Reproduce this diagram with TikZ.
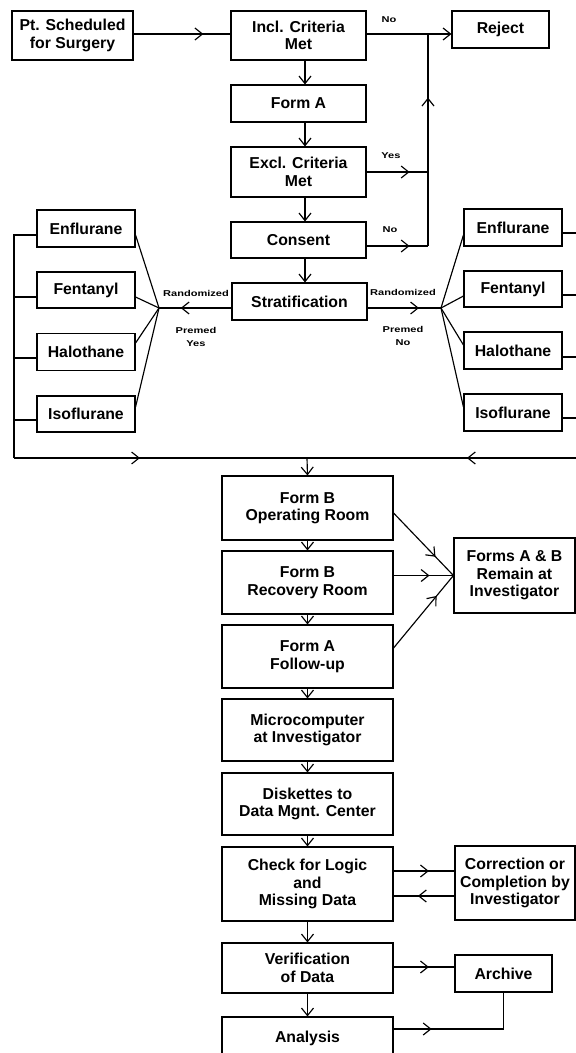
\documentclass[tikz,border=0pt]{standalone}
\usepackage{fontspec}
\setmainfont{Liberation Sans}
\newfontfamily\lblfont[FakeStretch=1.3]{Liberation Sans}
\usetikzlibrary{arrows.meta,decorations.markings}
\tikzset{
  box/.style={draw, line width=1.1pt, align=center, inner sep=0pt,
    font=\fontsize{15.8}{17.5}\selectfont\bfseries},
  wh/.style 2 args={minimum width=#1pt, minimum height=#2pt},
  lbl/.style={font=\lblfont\fontsize{8.5}{13}\selectfont\bfseries, align=center, inner sep=0pt},
  conn/.style={line width=1.15pt},
  tip/.style={-{Straight Barb[length=7.5pt,width=12pt]}},
  midarr/.style={postaction={decorate}, decoration={markings,
    mark=at position #1 with {\arrow{Straight Barb[length=7.5pt,width=12pt]}}}},
}
\begin{document}
\begin{tikzpicture}[x=1pt,y=-1pt]
\useasboundingbox (0,0) rectangle (576,1053);
\fill[white] (0,0) rectangle (576,1053);
\clip (0,0) rectangle (576,1053);

% upper column
\node[box, wh={121}{49}] (pt) at (72.5,35.5) {Pt. Scheduled\\for Surgery};
\node[box, wh={135}{49}] (incl) at (298.5,35.5) {Incl. Criteria\\Met};
\node[box, wh={97}{37}] (reject) at (500.5,29.5) {Reject};
\node[box, wh={135}{37}] (forma) at (298.5,103.5) {Form A};
\node[box, wh={135}{50}] (excl) at (298.5,172) {Excl. Criteria\\Met};
\node[box, wh={135}{36}] (consent) at (298.5,240) {Consent};
\node[box, wh={135}{37}] (strat) at (299.5,301.5) {Stratification};

% drug boxes
\node[box, wh={98}{37}] (enfL) at (86,228.5) {Enflurane};
\node[box, wh={98}{36}] (fenL) at (86,290) {Fentanyl};
\node[box, wh={98}{37}] (halL) at (86,352) {Halothane};
\node[box, wh={98}{36}] (isoL) at (86,414) {Isoflurane};
\node[box, wh={98}{37}] (enfR) at (513,227.5) {Enflurane};
\node[box, wh={98}{36}] (fenR) at (513,289) {Fentanyl};
\node[box, wh={98}{37}] (halR) at (513,350.5) {Halothane};
\node[box, wh={98}{37}] (isoR) at (513,412.5) {Isoflurane};

% lower column
\node[box, wh={171}{64}] (formb1) at (307.5,508) {Form B\\Operating Room};
\node[box, wh={171}{63}] (formb2) at (307.5,582.5) {Form B\\Recovery Room};
\node[box, wh={171}{63}] (forma2) at (307.5,656.5) {Form A\\Follow-up};
\node[box, wh={171}{62}] (micro) at (307.5,730) {Microcomputer\\at Investigator};
\node[box, wh={171}{62}] (disk) at (307.5,804) {Diskettes to\\Data Mgnt. Center};
\node[box, wh={171}{74}] (check) at (307.5,884) {Check for Logic\\and\\Missing Data};
\node[box, wh={171}{50}] (verif) at (307.5,968) {Verification\\of Data};
\node[box, wh={171}{42}] (analysis) at (307.5,1038) {Analysis};
\node[box, wh={121}{75}] (forms) at (514.5,575.5) {Forms A \& B\\Remain at\\Investigator};
\node[box, wh={120}{74}] (corr) at (515,883) {Correction or\\Completion by\\Investigator};
\node[box, wh={97}{37}] (archive) at (503.5,973.5) {Archive};

% labels
\node[lbl] (lno1) at (389,20) {No};
\node[lbl] (lyes) at (391,156) {Yes};
\node[lbl] (lno2) at (390,230) {No};
\node[lbl] (lrandL) at (196,293) {Randomized};
\node[lbl] (lrandR) at (403,292) {Randomized};
\node[lbl] (lpremL) at (196,336.5) {Premed\\Yes};
\node[lbl] (lpremR) at (403,335.5) {Premed\\No};

% coordinates
\coordinate (cx) at (305,0);
\coordinate (vbot) at (428,246);
\coordinate (vtop) at (428,34);
\coordinate (fl) at (159,308);
\coordinate (fr) at (441,308);
\coordinate (lbus) at (14,458);
\coordinate (rbus) at (578,458);
\coordinate (junc) at (307,458);

% top connectors
\draw[conn, midarr=0.72] (pt.east |- vtop) -- (incl.west |- vtop);
\draw[conn, tip] (incl.east |- vtop) -- (reject.west |- vtop);
\draw[conn, midarr=0.7] (vbot) -- (vtop);
\draw[conn, midarr=0.7] (excl.east) -- (excl.east -| vbot);
\draw[conn, midarr=0.7] (consent.east |- vbot) -- (vbot);
\draw[conn, tip] (incl.south -| cx) -- (forma.north -| cx);
\draw[conn, tip] (forma.south -| cx) -- (excl.north -| cx);
\draw[conn, tip] (excl.south -| cx) -- (consent.north -| cx);
\draw[conn, tip] (consent.south -| cx) -- (strat.north -| cx);

% stratification fans
\draw[conn, midarr=0.7] (strat.west |- fl) -- (fl);
\draw[conn, midarr=0.7] (strat.east |- fr) -- (fr);
\draw[conn] (fl) -- ([yshift=-6.5pt]enfL.east);
\draw[conn] (fl) -- ([yshift=-7pt]fenL.east);
\draw[conn] (fl) -- ([yshift=9pt]halL.east);
\draw[conn] (fl) -- ([yshift=7pt]isoL.east);
\draw[conn] (fr) -- ([yshift=-7.5pt]enfR.west);
\draw[conn] (fr) -- ([yshift=-7pt]fenR.west);
\draw[conn] (fr) -- ([yshift=5.5pt]halR.west);
\draw[conn] (fr) -- ([yshift=5.5pt]isoR.west);

% buses
\draw[conn] ([yshift=-6.5pt]enfL.west) -| (lbus);
\draw[conn] ([yshift=-7pt]fenL.west) -- (lbus |- 0,297);
\draw[conn] ([yshift=-6pt]halL.west) -- (lbus |- 0,358);
\draw[conn] ([yshift=-6pt]isoL.west) -- (lbus |- 0,420);
\draw[conn] ([yshift=-5.5pt]enfR.east) -| (rbus);
\draw[conn] ([yshift=-6pt]fenR.east) -- (rbus |- 0,295);
\draw[conn] ([yshift=-6.5pt]halR.east) -- (rbus |- 0,357);
\draw[conn] ([yshift=-5.5pt]isoR.east) -- (rbus |- 0,418);
\draw[conn, midarr=0.43] (lbus) -- (junc);
\draw[conn, midarr=0.41] (rbus) -- (junc);
\draw[conn, tip] (junc) -- (formb1.north);

% lower column
\draw[conn, tip] (formb1.south) -- (formb2.north);
\draw[conn, tip] (formb2.south) -- (forma2.north);
\draw[conn, tip] (forma2.south) -- (micro.north);
\draw[conn, tip] (micro.south) -- (disk.north);
\draw[conn, tip] (disk.south) -- (check.north);
\draw[conn, tip] (check.south) -- (verif.north);
\draw[conn, tip] (verif.south) -- (analysis.north);

\draw[conn, midarr=0.7] (formb1.east |- 0,513) -- (forms.west);
\draw[conn, midarr=0.6] (formb2.east |- forms.west) -- (forms.west);
\draw[conn, midarr=0.72] (forma2.east |- 0,648) -- (forms.west);

\draw[conn, midarr=0.58] (check.east |- 0,871) -- (corr.west |- 0,871);
\draw[conn, midarr=0.6] (corr.west |- 0,896) -- (check.east |- 0,896);
\draw[conn, midarr=0.58] (verif.east |- 0,967) -- (archive.west |- 0,967);
\draw[conn, midarr=0.26] (analysis.east |- 0,1029) -| (archive.south);
\end{tikzpicture}
\end{document}
